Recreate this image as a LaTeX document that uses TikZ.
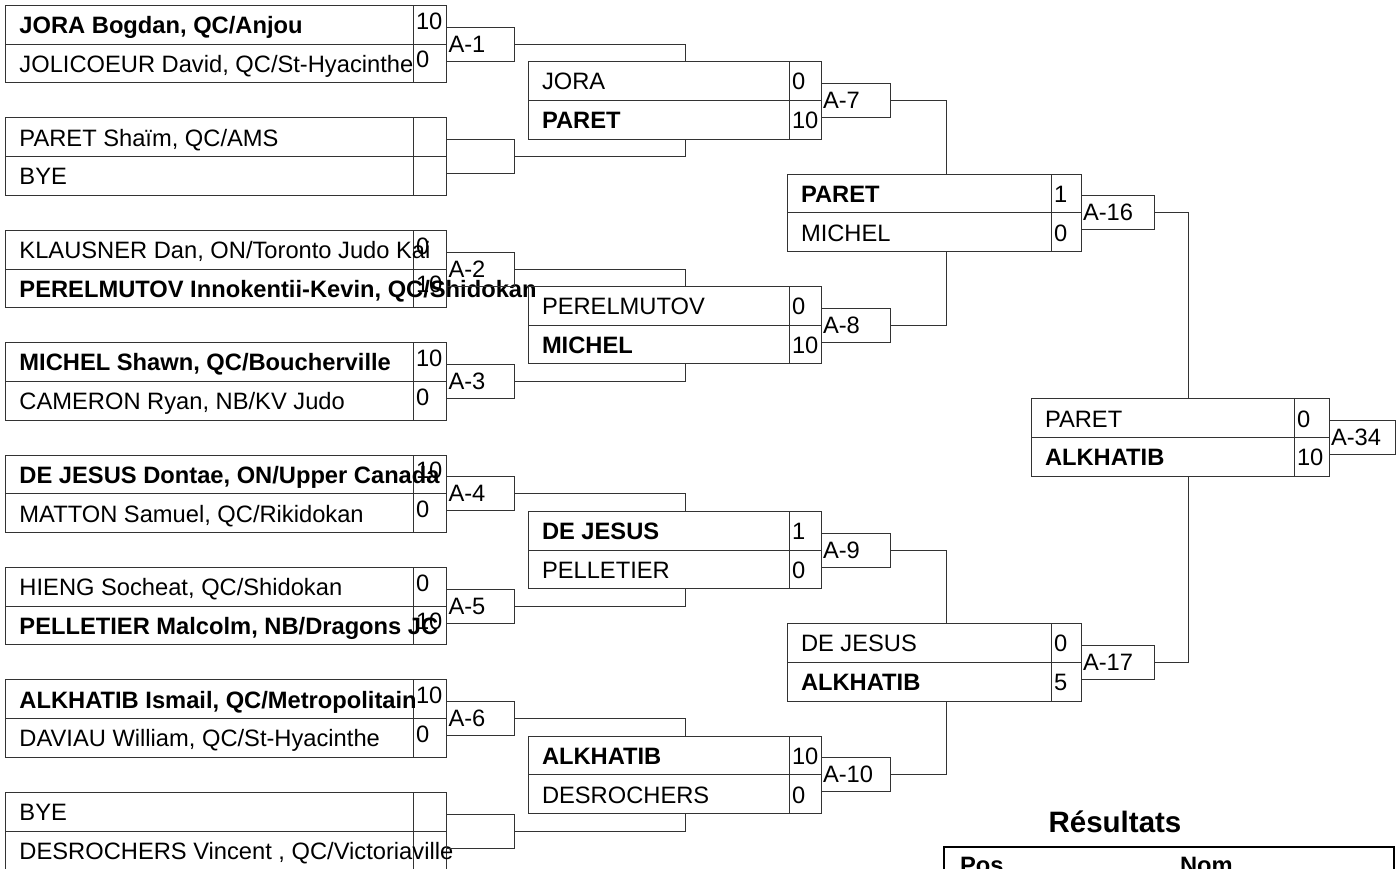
\documentclass[tikz,border=0pt]{standalone}
\usepackage{fontspec}
\setmainfont{Liberation Sans}
\newcommand\fsz{\fontsize{23.7}{27}\selectfont}
\tikzset{
  ln/.style={draw=black!80, line width=1pt},
  cellbox/.style={ln, rectangle, inner sep=0pt, outer sep=0pt, anchor=west},
  txt/.style={inner sep=0pt, outer sep=0pt, anchor=base west, font=\fsz, text=black},
  conn/.style={ln},
}
\newcommand\nameoff{10.5}
\newcommand\scoreoff{10.5}
% name, left, right, score divider x, middle y, name1, score1, name2, score2
\newcommand\matchbox[9]{%
  \node[cellbox, minimum width={(#3-#2)*1pt}, minimum height=77.4pt] (#1) at (#2,#5) {};
  \draw[ln] (#1.west) -- (#1.east);
  \draw[ln] (#4,#5-38.7) -- (#4,#5+38.7);
  \node[txt] (#1-n1) at (#2+14,#5-\nameoff) {#6};
  \node[txt] (#1-s1) at (#4+3,#5-\scoreoff) {#7};
  \node[txt] (#1-n2) at (#2+14,#5+38.7-\nameoff) {#8};
  \node[txt] (#1-s2) at (#4+3,#5+38.7-\scoreoff) {#9};
}
% name, left, middle y, width, text
\newcommand\lbox[5]{%
  \node[cellbox, minimum width=#4pt, minimum height=34pt] (#1) at (#2,#3) {};
  \node[txt] (#1-t) at (#2+2,#3+8) {#5};
}
\begin{document}
\begin{tikzpicture}[x=1pt,y=-1pt]
\useasboundingbox (0,0) rectangle (1397,869);
\clip (0,0) rectangle (1397,869);
\fill[white] (0,0) rectangle (1397,869);

% ---------- Round 1 ----------
\renewcommand\scoreoff{15}
\matchbox{a1}{5.5}{446.5}{413}{44.2}{\bfseries JORA Bogdan, QC/Anjou}{10}{JOLICOEUR David, QC/St-Hyacinthe}{0}
\matchbox{a2}{5.5}{446.5}{413}{156.6}{PARET Shaïm, QC/AMS}{}{BYE}{}
\matchbox{a3}{5.5}{446.5}{413}{269.0}{KLAUSNER Dan, ON/Toronto Judo Kai}{0}{\bfseries PERELMUTOV Innokentii-Kevin, QC/Shidokan}{10}
\matchbox{a4}{5.5}{446.5}{413}{381.4}{\bfseries MICHEL Shawn, QC/Boucherville}{10}{CAMERON Ryan, NB/KV Judo}{0}
\matchbox{a5}{5.5}{446.5}{413}{493.8}{\bfseries DE JESUS Dontae, ON/Upper Canada}{10}{MATTON Samuel, QC/Rikidokan}{0}
\matchbox{a6}{5.5}{446.5}{413}{606.2}{HIENG Socheat, QC/Shidokan}{0}{\bfseries PELLETIER Malcolm, NB/Dragons JC}{10}
\matchbox{a7}{5.5}{446.5}{413}{718.6}{\bfseries ALKHATIB Ismail, QC/Metropolitain}{10}{DAVIAU William, QC/St-Hyacinthe}{0}
\matchbox{a8}{5.5}{446.5}{413}{831.0}{BYE}{}{DESROCHERS Vincent , QC/Victoriaville}{}

\lbox{l1}{446.5}{44.2}{68}{A-1}
\lbox{l2}{446.5}{156.6}{68}{}
\lbox{l3}{446.5}{269.0}{68}{A-2}
\lbox{l4}{446.5}{381.4}{68}{A-3}
\lbox{l5}{446.5}{493.8}{68}{A-4}
\lbox{l6}{446.5}{606.2}{68}{A-5}
\lbox{l7}{446.5}{718.6}{68}{A-6}
\lbox{l8}{446.5}{831.0}{68}{}

% ---------- Round 2 ----------
\renewcommand\scoreoff{10.5}
\matchbox{b1}{528}{821}{789}{100.4}{JORA}{0}{\bfseries PARET}{10}
\matchbox{b2}{528}{821}{789}{325.2}{PERELMUTOV}{0}{\bfseries MICHEL}{10}
\matchbox{b3}{528}{821}{789}{550.0}{\bfseries DE JESUS}{1}{PELLETIER}{0}
\matchbox{b4}{528}{821}{789}{774.8}{\bfseries ALKHATIB}{10}{DESROCHERS}{0}

\lbox{m1}{821}{100.4}{69}{A-7}
\lbox{m2}{821}{325.2}{69}{A-8}
\lbox{m3}{821}{550.0}{69}{A-9}
\lbox{m4}{821}{774.8}{69}{A-10}

% ---------- Round 3 ----------
\matchbox{c1}{787}{1081}{1051}{212.8}{\bfseries PARET}{1}{MICHEL}{0}
\matchbox{c2}{787}{1081}{1051}{662.4}{DE JESUS}{0}{\bfseries ALKHATIB}{5}

\lbox{n1}{1081}{212.8}{73}{A-16}
\lbox{n2}{1081}{662.4}{73}{A-17}

% ---------- Final ----------
\matchbox{f1}{1031}{1329}{1294}{437.6}{PARET}{0}{\bfseries ALKHATIB}{10}
\lbox{o1}{1329}{437.6}{66}{A-34}

% ---------- connectors ----------
\coordinate (v1) at (685,0);
\coordinate (v2) at (946,0);
\coordinate (v3) at (1188,0);
\draw[conn] (l1.east) -| (v1 |- b1.north);
\draw[conn] (l2.east) -| (v1 |- b1.south);
\draw[conn] (l3.east) -| (v1 |- b2.north);
\draw[conn] (l4.east) -| (v1 |- b2.south);
\draw[conn] (l5.east) -| (v1 |- b3.north);
\draw[conn] (l6.east) -| (v1 |- b3.south);
\draw[conn] (l7.east) -| (v1 |- b4.north);
\draw[conn] (l8.east) -| (v1 |- b4.south);
\draw[conn] (m1.east) -| (v2 |- c1.north);
\draw[conn] (m2.east) -| (v2 |- c1.south);
\draw[conn] (m3.east) -| (v2 |- c2.north);
\draw[conn] (m4.east) -| (v2 |- c2.south);
\draw[conn] (n1.east) -| (v3 |- f1.north);
\draw[conn] (n2.east) -| (v3 |- f1.south);

% ---------- results ----------
\node[inner sep=0pt, anchor=base, font=\fontsize{29.5}{33}\selectfont\bfseries] (title) at (1115,832) {Résultats};
\node[draw=black, line width=2pt, rectangle, inner sep=0pt, anchor=north west, minimum width=450pt, minimum height=60pt] (tab) at (943,846) {};
\node[txt, font=\fsz\bfseries] (pos) at (960,873.5) {Pos};
\node[txt, font=\fsz\bfseries] (nom) at (1180,873.5) {Nom};
\end{tikzpicture}
\end{document}
